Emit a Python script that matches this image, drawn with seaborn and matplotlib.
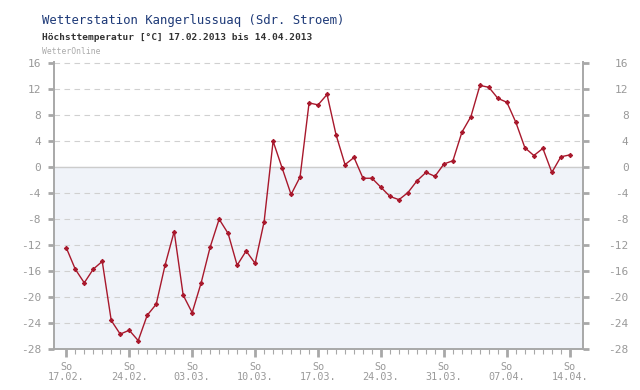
import numpy as np
import pandas as pd
import matplotlib
matplotlib.use("Agg")
import matplotlib.pyplot as plt
import matplotlib.transforms as mtransforms
import seaborn as sns

# Daily maximum temperature, 17.02.2013 - 14.04.2013
temps = [
    -12.4, -15.7, -17.8, -15.7, -14.5, -23.6, -25.7, -25.1, -26.7, -22.8,
    -21.1, -15.0, -9.9, -19.7, -22.4, -17.8, -12.3, -8.0, -10.2, -15.1,
    -12.9, -14.8, -8.4, 4.0, -0.1, -4.2, -1.5, 9.9, 9.6, 11.2,
    5.0, 0.4, 1.5, -1.7, -1.7, -3.1, -4.5, -5.0, -3.9, -2.1,
    -0.8, -1.4, 0.5, 1.0, 5.4, 7.8, 12.6, 12.3, 10.6, 10.0,
    6.9, 3.0, 1.8, 2.9, -0.8, 1.6, 1.9,
]
sunday_labels = ["So\n17.02.", "So\n24.02.", "So\n03.03.", "So\n10.03.", "So\n17.03.",
                 "So\n24.03.", "So\n31.03.", "So\n07.04.", "So\n14.04."]
y_ticks = [16, 12, 8, 4, 0, -4, -8, -12, -16, -20, -24, -28]

df = pd.DataFrame({"day": np.arange(len(temps)), "temp": temps})

sns.set_style("white")
plt.rcParams["font.family"] = ["DejaVu Sans Mono", "DejaVu Sans"]
plt.rcParams["axes.unicode_minus"] = False

fig = plt.figure(figsize=(6.4, 3.9), dpi=100)
ax = fig.add_axes([0.0836, 0.105, 0.827, 0.736])

grey = "#a8a8a8"
txt_grey = "#999999"

# light background below zero + dashed grid
ax.axhspan(-28, 0, color="#f0f3f9", zorder=0)
for v in y_ticks:
    if v == 0:
        ax.axhline(v, color="#cccccc", lw=1, zorder=1)
    elif v != -28:
        ax.axhline(v, color="#d0d0d0", lw=0.8, ls=(0, (5, 4)), zorder=1)

sns.lineplot(data=df, x="day", y="temp", ax=ax, color="#a8182c", lw=1,
             marker="D", markersize=2.2, markeredgecolor="#a8182c", zorder=3)

ax.set_xlim(-1.42, 57.44)
ax.set_ylim(-28, 16.2)
ax.set_xlabel("")
ax.set_ylabel("")

ax.set_yticks(y_ticks)
ax.set_yticklabels([str(v) for v in y_ticks])
ax.set_xticks(np.arange(0, len(temps), 7))
ax.set_xticklabels(sunday_labels, linespacing=1.0)
ax.set_xticks(np.arange(len(temps)), minor=True)

ax.tick_params(axis="y", which="major", left=True, right=True, labelleft=True,
               labelright=True, length=4, width=2, color=grey,
               labelcolor=txt_grey, labelsize=8, pad=5)
ax.tick_params(axis="x", which="major", bottom=True, length=6, width=2,
               color=grey, labelcolor=txt_grey, labelsize=7.3, pad=3)
ax.tick_params(axis="x", which="minor", bottom=True, length=3.5, width=0.8,
               color=grey)

# right labels are right aligned
offset = mtransforms.ScaledTranslation(24 / 72, 0, fig.dpi_scale_trans)
for t in ax.yaxis.get_major_ticks():
    t.label2.set_horizontalalignment("right")
    t.label2.set_transform(t.label2.get_transform() + offset)

for side in ["left", "bottom", "right"]:
    ax.spines[side].set_color(grey)
    ax.spines[side].set_linewidth(1.4)
ax.spines["top"].set_visible(False)

fig.text(0.0656, 0.947, "Wetterstation Kangerlussuaq (Sdr. Stroem)",
         fontsize=8.8, color="#1e3a78", va="center", ha="left")
fig.text(0.0656, 0.904, "Höchsttemperatur [°C] 17.02.2013 bis 14.04.2013",
         fontsize=6.8, color="#333333", weight="bold", va="center", ha="left")
fig.text(0.0656, 0.868, "WetterOnline", fontsize=5.8, color="#aaaaaa",
         va="center", ha="left")

fig.savefig("out.png", dpi=100)
